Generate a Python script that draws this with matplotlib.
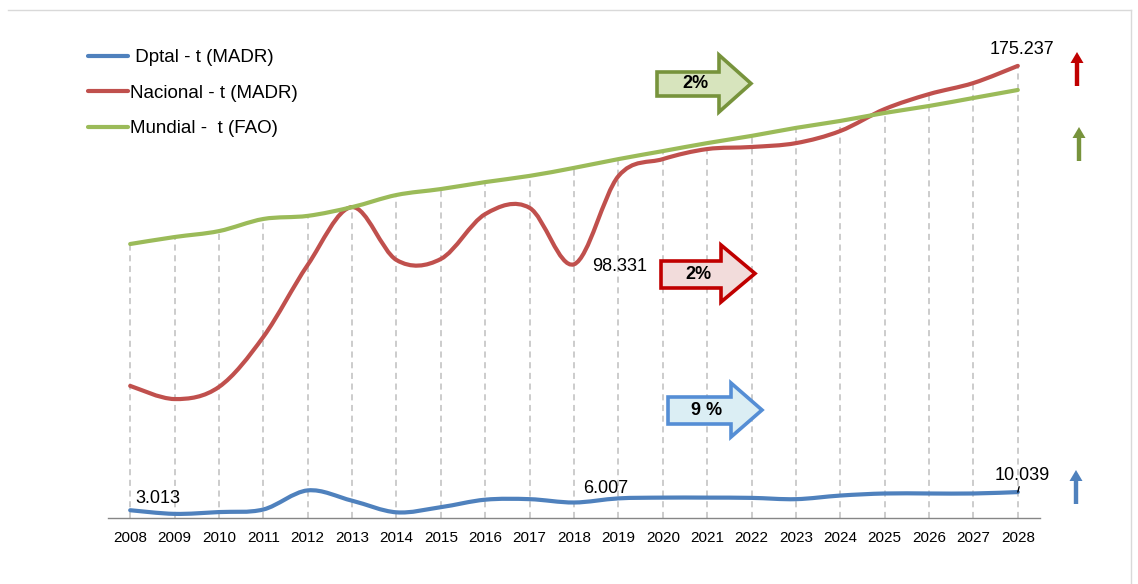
import numpy as np
import matplotlib
matplotlib.use('Agg')
import matplotlib.pyplot as plt
from matplotlib.path import Path
from matplotlib.patches import PathPatch, Polygon
from matplotlib.lines import Line2D

plt.rcParams['font.family'] = ['Liberation Sans', 'DejaVu Sans']

# Producción (miles de t) 2008-2028
anios = list(range(2008, 2029))
dptal = [3.013, 1.6, 2.3, 3.3, 10.7, 6.7, 2.2, 4.2, 7.1, 7.3, 6.007,
         7.6, 7.9, 7.9, 7.8, 7.3, 8.7, 9.5, 9.5, 9.5, 10.039]
nacional = [51.2, 46.1, 50.8, 70.2, 98.1, 120.5, 100.0, 100.4, 117.8, 120.2, 98.331,
            132.5, 139.1, 143.0, 143.8, 145.3, 150.0, 158.5, 164.3, 168.6, 175.237]
mundial = [106.2, 108.9, 111.2, 115.9, 117.1, 120.5, 125.2, 127.5, 130.2, 132.6, 135.7,
           139.1, 142.2, 145.3, 148.1, 151.2, 153.9, 157.0, 159.7, 162.8, 165.9]

etiquetas = [' Dptal - t (MADR)', 'Nacional - t (MADR)', 'Mundial -  t (FAO)']
colores = ['#4f81bd', '#c0504d', '#9bbb59']

# tasas de crecimiento mostradas en las flechas
tasa_mundial = '2%'
tasa_nacional = '2%'
tasa_dptal = '9 %'

W, H = 1138, 584


def fx(px):
    return px / W


def fy(py):
    return 1 - py / H


def curva_suave(x, y):
    # curva bezier tipo Excel (Catmull-Rom) por los puntos
    pts = np.column_stack([np.asarray(x, float), np.asarray(y, float)])
    ext = np.vstack([pts[0], pts, pts[-1]])
    verts = [pts[0]]
    codes = [Path.MOVETO]
    for i in range(len(pts) - 1):
        p0, p1, p2, p3 = ext[i], ext[i + 1], ext[i + 2], ext[i + 3]
        verts += [p1 + (p2 - p0) / 6, p2 - (p3 - p1) / 6, p2]
        codes += [Path.CURVE4] * 3
    return Path(verts, codes)


def flecha_bloque(fig, x0, xh, xt, yb1, yb2, yh1, yh2, cara, borde, texto, tx):
    ym = (yh1 + yh2) / 2
    pts = [(x0, yb1), (xh, yb1), (xh, yh1), (xt, ym), (xh, yh2), (xh, yb2), (x0, yb2)]
    pts = [(fx(a), fy(b)) for a, b in pts]
    fig.add_artist(Polygon(pts, closed=True, facecolor=cara, edgecolor=borde, lw=2.6,
                           joinstyle='miter', transform=fig.transFigure))
    fig.text(fx(tx), fy((yb1 + yb2) / 2), texto, ha='center', va='center',
             fontsize=13, fontweight='bold', color='black')


def flecha_arriba(fig, x, y_top, y_bot, color):
    sw, hw, hl = 2.2, 6.5, 11
    pts = [(x - sw, y_bot), (x - sw, y_top + hl), (x - hw, y_top + hl), (x, y_top),
           (x + hw, y_top + hl), (x + sw, y_top + hl), (x + sw, y_bot)]
    pts = [(fx(a), fy(b)) for a, b in pts]
    fig.add_artist(Polygon(pts, closed=True, facecolor=color, edgecolor='none',
                           transform=fig.transFigure))


fig = plt.figure(figsize=(W / 100, H / 100), dpi=100)
ax = fig.add_axes([fx(108), fy(518), (1040 - 108) / W, (518 - 20) / H])
ax.set_xlim(2007.5, 2028.5)
ax.set_ylim(0, 498 / 2.58)

# líneas de caída desde la serie más alta hasta el eje
tope = np.max(np.vstack([dptal, nacional, mundial]), axis=0)
ax.vlines(anios, 0, tope, colors='#bfbfbf', linestyles=(0, (4, 3)), lw=1.1, zorder=1)

series = [dptal, nacional, mundial]
for serie, color in zip(series, colores):
    ax.add_patch(PathPatch(curva_suave(anios, serie), fill=False, edgecolor=color,
                           lw=3, capstyle='round', joinstyle='round', zorder=3))

for s in ['top', 'right', 'left']:
    ax.spines[s].set_visible(False)
ax.spines['bottom'].set_color('#868686')
ax.spines['bottom'].set_linewidth(1)
ax.set_yticks([])
ax.set_xticks(anios)
ax.set_xticklabels([str(a) for a in anios], fontsize=11)
ax.tick_params(axis='x', length=0, pad=9)

# etiquetas de datos
ax.annotate(f'{dptal[0]:.3f}', (anios[0], dptal[0]), xytext=(4, 8.5),
            textcoords='offset points', ha='left', va='center', fontsize=13)
ax.annotate(f'{dptal[10]:.3f}', (anios[10], dptal[10]), xytext=(6.5, 10),
            textcoords='offset points', ha='left', va='center', fontsize=13)
ax.annotate(f'{dptal[-1]:.3f}', (anios[-1], dptal[-1]), xytext=(3, 12),
            textcoords='offset points', ha='center', va='center', fontsize=13,
            arrowprops=dict(arrowstyle='-', color='black', lw=1, shrinkA=5, shrinkB=0))
ax.annotate(f'{nacional[10]:.3f}', (anios[10], nacional[10]), xytext=(13, -1.5),
            textcoords='offset points', ha='left', va='center', fontsize=13)
ax.annotate(f'{nacional[-1]:.3f}', (anios[-1], nacional[-1]), xytext=(3, 12),
            textcoords='offset points', ha='center', va='center', fontsize=13)

handles = [Line2D([], [], color=c, lw=3, solid_capstyle='round') for c in colores]
fig.legend(handles, etiquetas, loc='upper left', bbox_to_anchor=(fx(88), fy(49)),
           frameon=False, fontsize=13.5, handlelength=2.13, handletextpad=0.1,
           labelspacing=0.98, borderaxespad=0, borderpad=0)

flecha_bloque(fig, 657, 719, 751, 72, 96, 55, 112, '#d7e4bd', '#77933c', tasa_mundial, 695)
flecha_bloque(fig, 661, 721, 755, 261, 288, 245, 302, '#f2dcdb', '#c00000', tasa_nacional, 698)
flecha_bloque(fig, 668, 731, 762, 397, 424, 383, 437, '#dbeef4', '#558ed5', tasa_dptal, 707)

flecha_arriba(fig, 1077, 52, 86, '#c00000')
flecha_arriba(fig, 1079, 127, 161, '#77933c')
flecha_arriba(fig, 1076, 470, 504, '#4f81bd')

# borde del área del gráfico
fig.add_artist(Line2D([fx(8), fx(1131)], [fy(10), fy(10)], color='#d9d9d9', lw=1,
                      transform=fig.transFigure))
fig.add_artist(Line2D([fx(1131), fx(1131)], [fy(10), fy(584)], color='#d9d9d9', lw=1,
                      transform=fig.transFigure))

fig.savefig('out.png', dpi=100)
